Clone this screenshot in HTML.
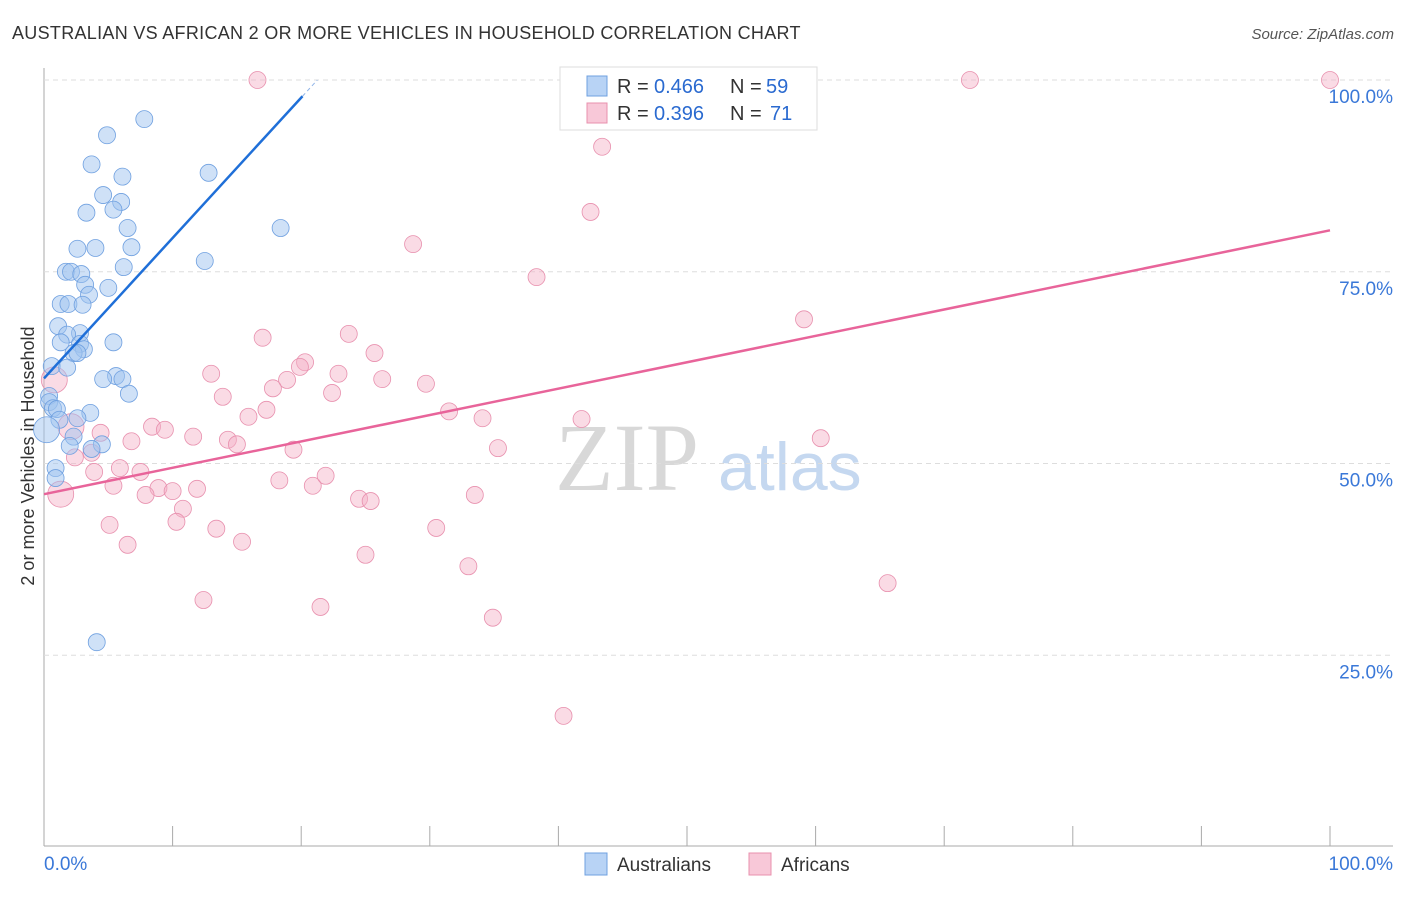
<!DOCTYPE html>
<html><head><meta charset="utf-8"><style>
body{margin:0;background:#fff;font-family:"Liberation Sans",sans-serif}
</style></head><body>
<svg id="chart" width="1406" height="892" xmlns="http://www.w3.org/2000/svg">
<text x="12" y="39" font-size="18" fill="#333" letter-spacing="0.3">AUSTRALIAN VS AFRICAN 2 OR MORE VEHICLES IN HOUSEHOLD CORRELATION CHART</text>
<text x="1394" y="39" font-size="15" fill="#555" font-style="italic" text-anchor="end">Source: ZipAtlas.com</text>
<text transform="translate(34,456) rotate(-90)" font-size="18" fill="#333" text-anchor="middle">2 or more Vehicles in Household</text>
<g><text x="555" y="490" font-size="96" font-family="Liberation Serif,serif" fill="#d8d8d8">ZIP</text><text x="718" y="490" font-size="68" fill="#c5d8f0">atlas</text></g>
<g id="grid"></g><g id="marks"></g><g id="lines"></g>
<g>
<rect x="560" y="67" width="257" height="63" fill="#fff" stroke="#ddd"/>
<rect x="587" y="76" width="20" height="20" fill="#b8d3f5" stroke="#6fa0e0"/>
<rect x="587" y="103" width="20" height="20" fill="#f8c8d8" stroke="#e890ae"/>
<text x="617" y="93" font-size="20" fill="#333">R =</text><text x="654" y="93" font-size="20" fill="#2a6ad0">0.466</text>
<text x="730" y="93" font-size="20" fill="#333">N =</text><text x="766" y="93" font-size="20" fill="#2a6ad0">59</text>
<text x="617" y="120" font-size="20" fill="#333">R =</text><text x="654" y="120" font-size="20" fill="#2a6ad0">0.396</text>
<text x="730" y="120" font-size="20" fill="#333">N =</text><text x="770" y="120" font-size="20" fill="#2a6ad0">71</text>
</g>
<g>
<rect x="585" y="853" width="22" height="22" fill="#b8d3f5" stroke="#6fa0e0"/>
<text x="617" y="871" font-size="19" fill="#333">Australians</text>
<rect x="749" y="853" width="22" height="22" fill="#f8c8d8" stroke="#e890ae"/>
<text x="781" y="871" font-size="19" fill="#333">Africans</text>
</g>
</svg>
<script>
const yTicks=[25,50,75,100];
const yTickLabels=["25.0%","50.0%","75.0%","100.0%"];
const xTickLabels=["0.0%","100.0%"];
const blueX=[7.8,4.9,3.7,12.8,6.1,4.6,6.0,5.4,3.3,6.5,18.4,2.6,4.0,6.8,12.5,6.2,1.7,2.1,2.9,3.2,5.0,3.5,1.3,1.9,3.0,1.1,2.8,1.8,1.3,5.4,2.8,3.1,2.3,2.6,0.6,1.8,5.6,4.6,6.1,6.6,0.4,0.4,0.7,1.0,3.6,2.6,1.2,2.3,4.5,2.0,3.7,0.9,0.9,4.1,0.2];
const blueY=[94.9,92.8,89.0,87.9,87.4,85.0,84.1,83.1,82.7,80.7,80.7,78.0,78.1,78.2,76.4,75.6,75.0,75.0,74.7,73.3,72.9,72.0,70.8,70.8,70.7,67.9,67.0,66.8,65.8,65.8,65.6,64.9,64.4,64.4,62.7,62.5,61.4,61.0,61.0,59.1,58.8,58.0,57.2,57.1,56.6,55.9,55.7,53.5,52.5,52.3,51.9,49.4,48.1,26.7,54.4];
const pinkX=[16.6,72.0,100,43.4,42.5,28.7,38.3,59.1,17.0,23.7,25.7,20.3,19.9,13.0,22.9,26.3,29.7,18.9,17.8,22.4,13.9,17.3,15.9,31.5,34.1,41.8,8.4,9.4,11.6,6.8,14.3,15.0,19.4,35.3,60.4,4.4,3.7,2.4,3.9,5.9,7.5,5.4,8.9,10.0,7.9,11.9,20.9,21.9,18.3,24.5,25.4,33.5,10.8,10.3,5.1,13.4,15.4,6.5,30.5,25.0,33.0,65.6,12.4,21.5,34.9,40.4,1.3,0.8,2.1];
const pinkY=[100,100,100,91.3,82.8,78.6,74.3,68.8,66.4,66.9,64.4,63.2,62.6,61.7,61.7,61.0,60.4,60.9,59.8,59.2,58.7,57.0,56.1,56.8,55.9,55.8,54.8,54.4,53.5,52.9,53.1,52.5,51.8,52.0,53.3,54.0,51.4,50.8,48.9,49.4,48.9,47.1,46.8,46.4,45.9,46.7,47.1,48.4,47.8,45.4,45.1,45.9,44.1,42.4,42.0,41.5,39.8,39.4,41.6,38.1,36.6,34.4,32.2,31.3,29.9,17.1,46.0,60.9,54.8];
const blueTrend=[61.1,1.83]; // intercept, slope
const pinkTrend=[46.0,0.344];
const X=v=>44+v*12.86, Y=v=>847-v*7.67;
const NS="http://www.w3.org/2000/svg";
function mk(t,a,p){const e=document.createElementNS(NS,t);for(const k in a)e.setAttribute(k,a[k]);p.appendChild(e);return e;}
const grid=document.getElementById('grid');
mk('line',{x1:44,y1:68,x2:44,y2:846,stroke:'#aaa'},grid);
mk('line',{x1:44,y1:846,x2:1393,y2:846,stroke:'#aaa'},grid);
for(let i=0;i<=10;i++){const l=mk('line',{x1:X(i*10),y1:826,x2:X(i*10),y2:846,stroke:'#aaa'},grid);}
yTicks.forEach((v,i)=>{
 const l=mk('line',{x1:44,y1:Y(v),x2:1393,y2:Y(v),stroke:'#ddd','stroke-dasharray':'5,4'},grid);
 
 
 const t=mk('text',{x:1393,y:Y(v)+23,'font-size':19,fill:'#3a78d8','text-anchor':'end'},grid);t.textContent=yTickLabels[i];
 
 
});
[[44,'start'],[1393,'end']].forEach((p,i)=>{const t=mk('text',{x:p[0],y:870,'font-size':19,fill:'#3a78d8','text-anchor':p[1]},grid);t.textContent=xTickLabels[i];
 
 });
const marks=document.getElementById('marks');
function pts(xs,ys,fill,stroke,name){xs.forEach((x,i)=>{const big=(i>=xs.length-3&&name==='african-point')||(i===xs.length-1&&name==='australian-point');
 const c=mk('circle',{cx:X(x),cy:Y(ys[i]),r:big?13:8.5,fill:fill,stroke:stroke,'stroke-width':0.8},marks);
 
 });}
pts(pinkX,pinkY,'rgba(245,175,198,0.45)','#e890ae','african-point');
pts(blueX,blueY,'rgba(160,195,240,0.5)','#6fa0e0','australian-point');
const lines=document.getElementById('lines');
const bx2=20.1;
const bl=mk('line',{x1:X(0),y1:Y(blueTrend[0]),x2:X(bx2),y2:Y(blueTrend[0]+blueTrend[1]*bx2),stroke:'#1f6fd8','stroke-width':2.5},lines);


const bx3=(100-blueTrend[0])/blueTrend[1];
mk('line',{x1:X(bx2),y1:Y(blueTrend[0]+blueTrend[1]*bx2),x2:X(bx3),y2:Y(100),stroke:'#8fb4e8','stroke-width':1,'stroke-dasharray':'4,3'},lines);
const pl=mk('line',{x1:X(0),y1:Y(pinkTrend[0]),x2:X(100),y2:Y(pinkTrend[0]+pinkTrend[1]*100),stroke:'#e8649a','stroke-width':2.5},lines);


</script>
</body></html>
